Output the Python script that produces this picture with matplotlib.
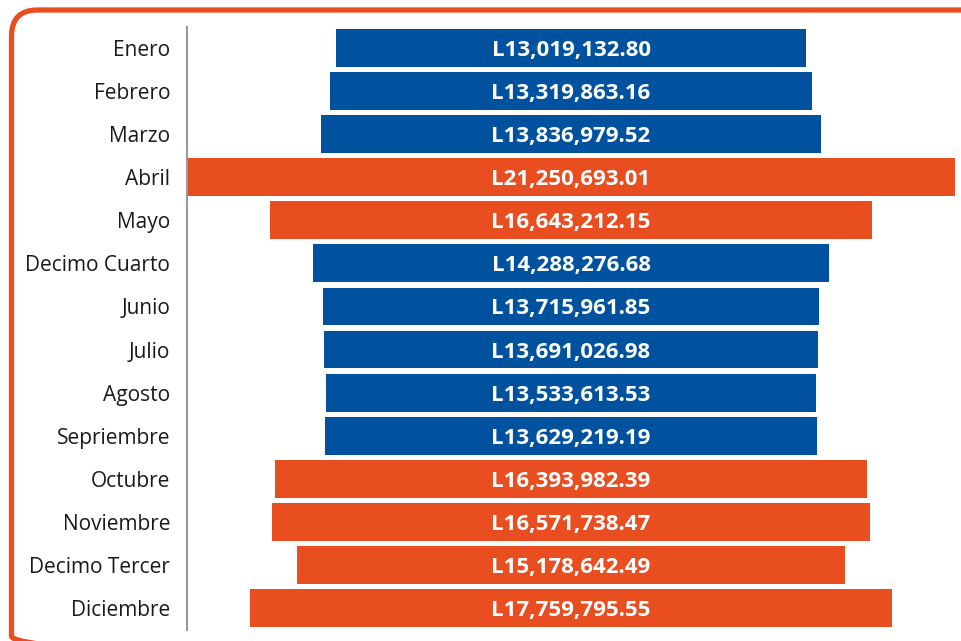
import matplotlib
matplotlib.use("Agg")
import matplotlib.pyplot as plt
from matplotlib.patches import FancyBboxPatch

# ===== DATOS =====
meses = ['Enero', 'Febrero', 'Marzo', 'Abril', 'Mayo', 'Decimo Cuarto', 'Junio',
         'Julio', 'Agosto', 'Sepriembre', 'Octubre', 'Noviembre', 'Decimo Tercer',
         'Diciembre']
montos = [13019132.80, 13319863.16, 13836979.52, 21250693.01, 16643212.15,
          14288276.68, 13715961.85, 13691026.98, 13533613.53, 13629219.19,
          16393982.39, 16571738.47, 15178642.49, 17759795.55]
destacados = ['Abril', 'Mayo', 'Octubre', 'Noviembre', 'Decimo Tercer', 'Diciembre']

AZUL = '#00529F'
NARANJA = '#E84E20'

plt.rcParams['font.family'] = ['Open Sans', 'DejaVu Sans']

fig = plt.figure(figsize=(9.61, 6.41), dpi=100)

# marco redondeado naranja (en pixeles)
fondo = fig.add_axes([0, 0, 1, 1])
fondo.set_xlim(0, 961)
fondo.set_ylim(641, 0)
fondo.axis('off')
marco = FancyBboxPatch((11.5, 10), 1000, 652,
                       boxstyle='round,pad=0,rounding_size=26',
                       fill=False, edgecolor=NARANJA, linewidth=3.8)
fondo.add_patch(marco)

# ===== GRAFICO =====
ax = fig.add_axes([187 / 961, 1 - 629.5 / 641, 768 / 961, 603 / 641])
ax.patch.set_visible(False)

maximo = max(montos)
y = list(range(len(meses)))
colores = [NARANJA if m in destacados else AZUL for m in meses]
ax.barh(y, montos, left=[-v / 2 for v in montos], height=0.88, color=colores)

for i, v in enumerate(montos):
    ax.text(0, i, f'L{v:,.2f}', ha='center', va='center_baseline', color='white',
            fontsize=16, fontweight='bold')

ax.set_xlim(-maximo / 2, maximo / 2)
ax.set_ylim(len(meses) - 0.5, -0.5)
ax.set_yticks(y)
ax.set_yticklabels(meses, fontsize=15, color='#1a1a1a')
ax.tick_params(axis='y', length=0, pad=12)
ax.set_xticks([])
for s in ['top', 'right', 'bottom']:
    ax.spines[s].set_visible(False)
ax.spines['left'].set_color('#999999')
ax.spines['left'].set_linewidth(1.5)

fig.savefig('out.png', dpi=100)
